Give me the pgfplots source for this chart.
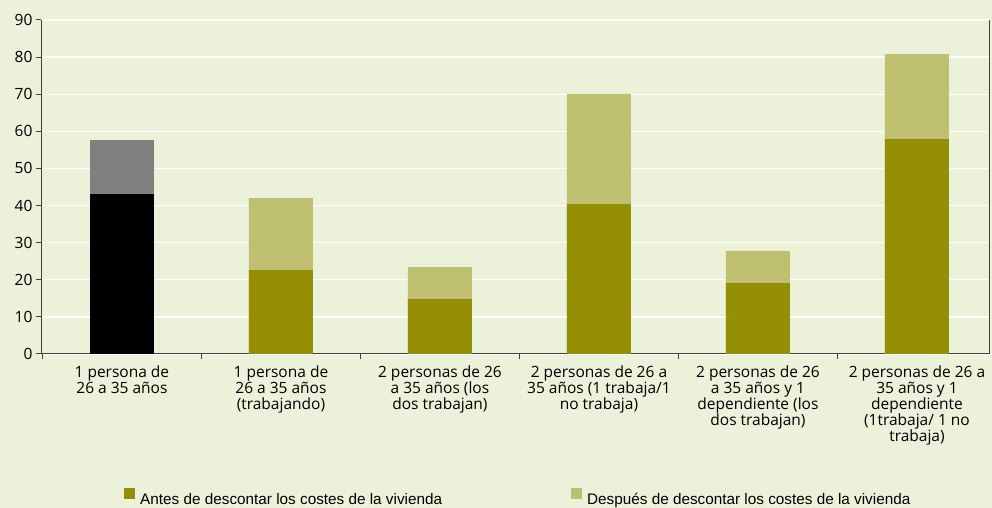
\documentclass[border=0pt]{standalone}
\usepackage{pgfplots}
\pgfplotsset{compat=1.18}
\usepackage{fontspec}
\setmainfont{Open Sans}
\newfontfamily\legfont{Liberation Sans}
\definecolor{bg}{HTML}{ECF2DA}
\definecolor{olv}{HTML}{948F05}
\definecolor{lolv}{HTML}{BFBF70}
\definecolor{grb}{HTML}{808080}
\definecolor{axc}{HTML}{404040}
\begin{document}
\begin{tikzpicture}
\fill[bg] (0,0) rectangle (992pt,508pt);
\useasboundingbox (0,0) rectangle (992pt,508pt);
\begin{axis}[
  at={(41pt,154pt)}, anchor=south west,
  scale only axis, width=948pt, height=334pt,
  xmin=-0.509, xmax=5.453, ymin=0, ymax=90,
  axis x line=bottom, axis y line=box,
  axis line style={axc, line width=1pt, -},
  ytick={0,10,...,90}, ytick pos=left,
  tick align=outside, major tick length=5pt,
  tick style={axc, line width=1pt},
  ymajorgrids, grid style={white, line width=1.3pt},
  xtick={-0.5,0.5,...,4.5},
  xticklabels={{1 persona de\\26 a 35 años},
    {1 persona de\\26 a 35 años\\(trabajando)},
    {2 personas de 26\\a 35 años (los\\dos trabajan)},
    {2 personas de 26 a\\35 años (1 trabaja/1\\no trabaja)},
    {2 personas de 26\\a 35 años y 1\\dependiente (los\\dos trabajan)},
    {2 personas de 26 a\\35 años y 1\\dependiente\\(1trabaja/ 1 no\\trabaja)}},
  x tick label style={font=\fontsize{15.5}{16}\selectfont, align=center, xshift=79.5pt, yshift=-3pt},
  y tick label style={font=\fontsize{15.5}{16}\selectfont},
  /pgf/number format/assume math mode=true,
  ybar, bar width=64pt, bar shift=0pt,
  legend columns=2,
  legend style={at={(axis description cs:0.0876,-0.428)}, anchor=west,
    draw=none, fill=none, inner sep=0pt, nodes={inner sep=0pt},
    font=\legfont\fontsize{15.3}{16}\selectfont,
    /tikz/every odd column/.append style={column sep=5pt},
    /tikz/column 2/.style={column sep=129pt}},
  legend image code/.code={\fill[#1,draw=none] (0pt,0pt) rectangle (11pt,11pt);},
]
\addlegendimage{fill=olv}
\addlegendimage{fill=lolv}
\addplot[fill=grb, draw=none, forget plot] coordinates {(0,57.7)};
\addplot[fill=lolv, draw=none, forget plot] coordinates {(1,42.0) (2,23.4) (3,70.1) (4,27.8) (5,80.8)};
\addplot[fill=black, draw=none, forget plot] coordinates {(0,43.1)};
\addplot[fill=olv, draw=none, forget plot] coordinates {(1,22.6) (2,14.8) (3,40.4) (4,19.1) (5,57.9)};
\legend{Antes de descontar los costes de la vivienda, Después de descontar los costes de la vivienda}
\end{axis}
\end{tikzpicture}
\end{document}
